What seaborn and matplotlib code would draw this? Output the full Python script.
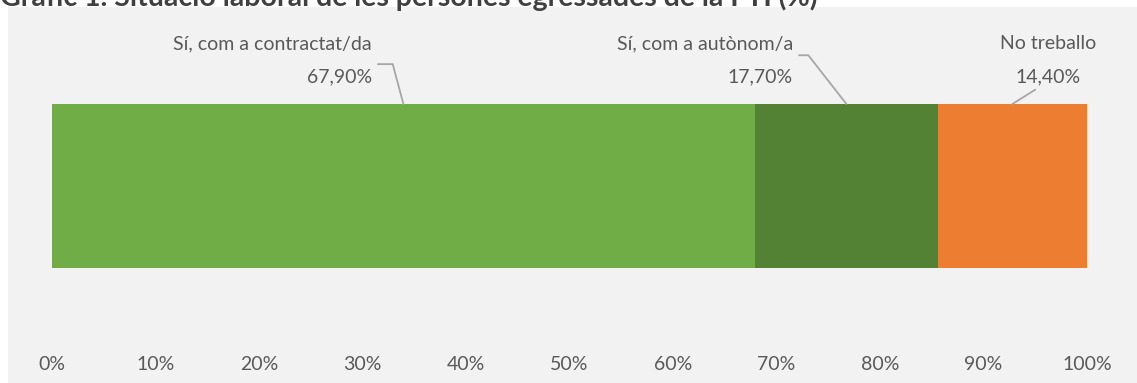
import numpy as np
import pandas as pd
import matplotlib
matplotlib.use("Agg")
import matplotlib.pyplot as plt
import seaborn as sns
from matplotlib.patches import Rectangle

categories = ["Sí, com a contractat/da", "Sí, com a autònom/a", "No treballo"]
values = [67.9, 17.7, 14.4]
colors = ["#70AD47", "#548235", "#ED7D31"]
tick_values = [0, 10, 20, 30, 40, 50, 60, 70, 80, 90, 100]
tick_labels = [f"{t}%" for t in tick_values]
title = "Gràfic 1. Situació laboral de les persones egressades de la FTI (%)"

sns.set_theme(style="white")
plt.rcParams["font.family"] = ["Lato", "DejaVu Sans"]

W, H = 1137, 383
fig = plt.figure(figsize=(W / 100, H / 100), dpi=100)
fig.patch.set_facecolor("white")
bg = Rectangle((8 / W, 0), 1 - 8 / W, 1 - 7 / H, transform=fig.transFigure,
               facecolor="#F2F2F2", edgecolor="none", zorder=-10)
fig.add_artist(bg)

ax_left, ax_right = 52, 1087
ax_top, ax_bot = 20, 350
ax = fig.add_axes([ax_left / W, 1 - ax_bot / H, (ax_right - ax_left) / W, (ax_bot - ax_top) / H])
ax.set_facecolor("none")
ax.set_zorder(5)

cum = np.cumsum(values)
starts = cum - np.array(values)
# draw largest cumulative first so the segments stack
for i in reversed(range(len(values))):
    sns.barplot(x=[cum[i]], y=["total"], color=colors[i], width=0.6, orient="h",
                ax=ax, saturation=1, edgecolor="none", linewidth=0)

ax.set_xlim(0, 100)
ax.set_ylim(0.600, -0.607)
ax.set_xticks(tick_values)
ax.set_xticklabels(tick_labels, color="#595959", fontsize=14)
ax.set_yticks([])
ax.set_xlabel("")
ax.set_ylabel("")
ax.tick_params(axis="x", length=0, pad=4)
for s in ax.spines.values():
    s.set_visible(False)

def fmt(v):
    return f"{v:.2f}".replace(".", ",") + "%"

bar_top = -0.3
fs = 14
ls = 2.1
line_kw = dict(arrowstyle="-", color="#A6A6A6", lw=1.3, shrinkA=2, shrinkB=0)

mid0 = starts[0] + values[0] / 2
ax.annotate(f"{categories[0]}\n{fmt(values[0])}", xy=(mid0, bar_top), xytext=(30.9, -0.46),
            ha="right", va="center", multialignment="right", linespacing=ls,
            fontsize=fs, color="#595959",
            arrowprops=dict(**line_kw, relpos=(1.0, 0.42),
                            connectionstyle="angle,angleA=0,angleB=105,rad=0"))
mid1 = starts[1] + values[1] / 2
ax.annotate(f"{categories[1]}\n{fmt(values[1])}", xy=(mid1, bar_top), xytext=(71.6, -0.46),
            ha="right", va="center", multialignment="right", linespacing=ls,
            fontsize=fs, color="#595959",
            arrowprops=dict(**line_kw, relpos=(1.0, 0.6),
                            connectionstyle="angle,angleA=0,angleB=128,rad=0"))
mid2 = starts[2] + values[2] / 2
ax.annotate(f"{categories[2]}\n{fmt(values[2])}", xy=(mid2, bar_top), xytext=(96.2, -0.46),
            ha="center", va="center", multialignment="center", linespacing=ls,
            fontsize=fs, color="#595959",
            arrowprops=dict(**line_kw, relpos=(0.45, 0.0)))

fig.text(0, 1 - 6 / H, title, ha="left", va="baseline", fontsize=20.5, fontweight="bold",
         color="#404040", zorder=10)

fig.savefig("out.png", dpi=100)
